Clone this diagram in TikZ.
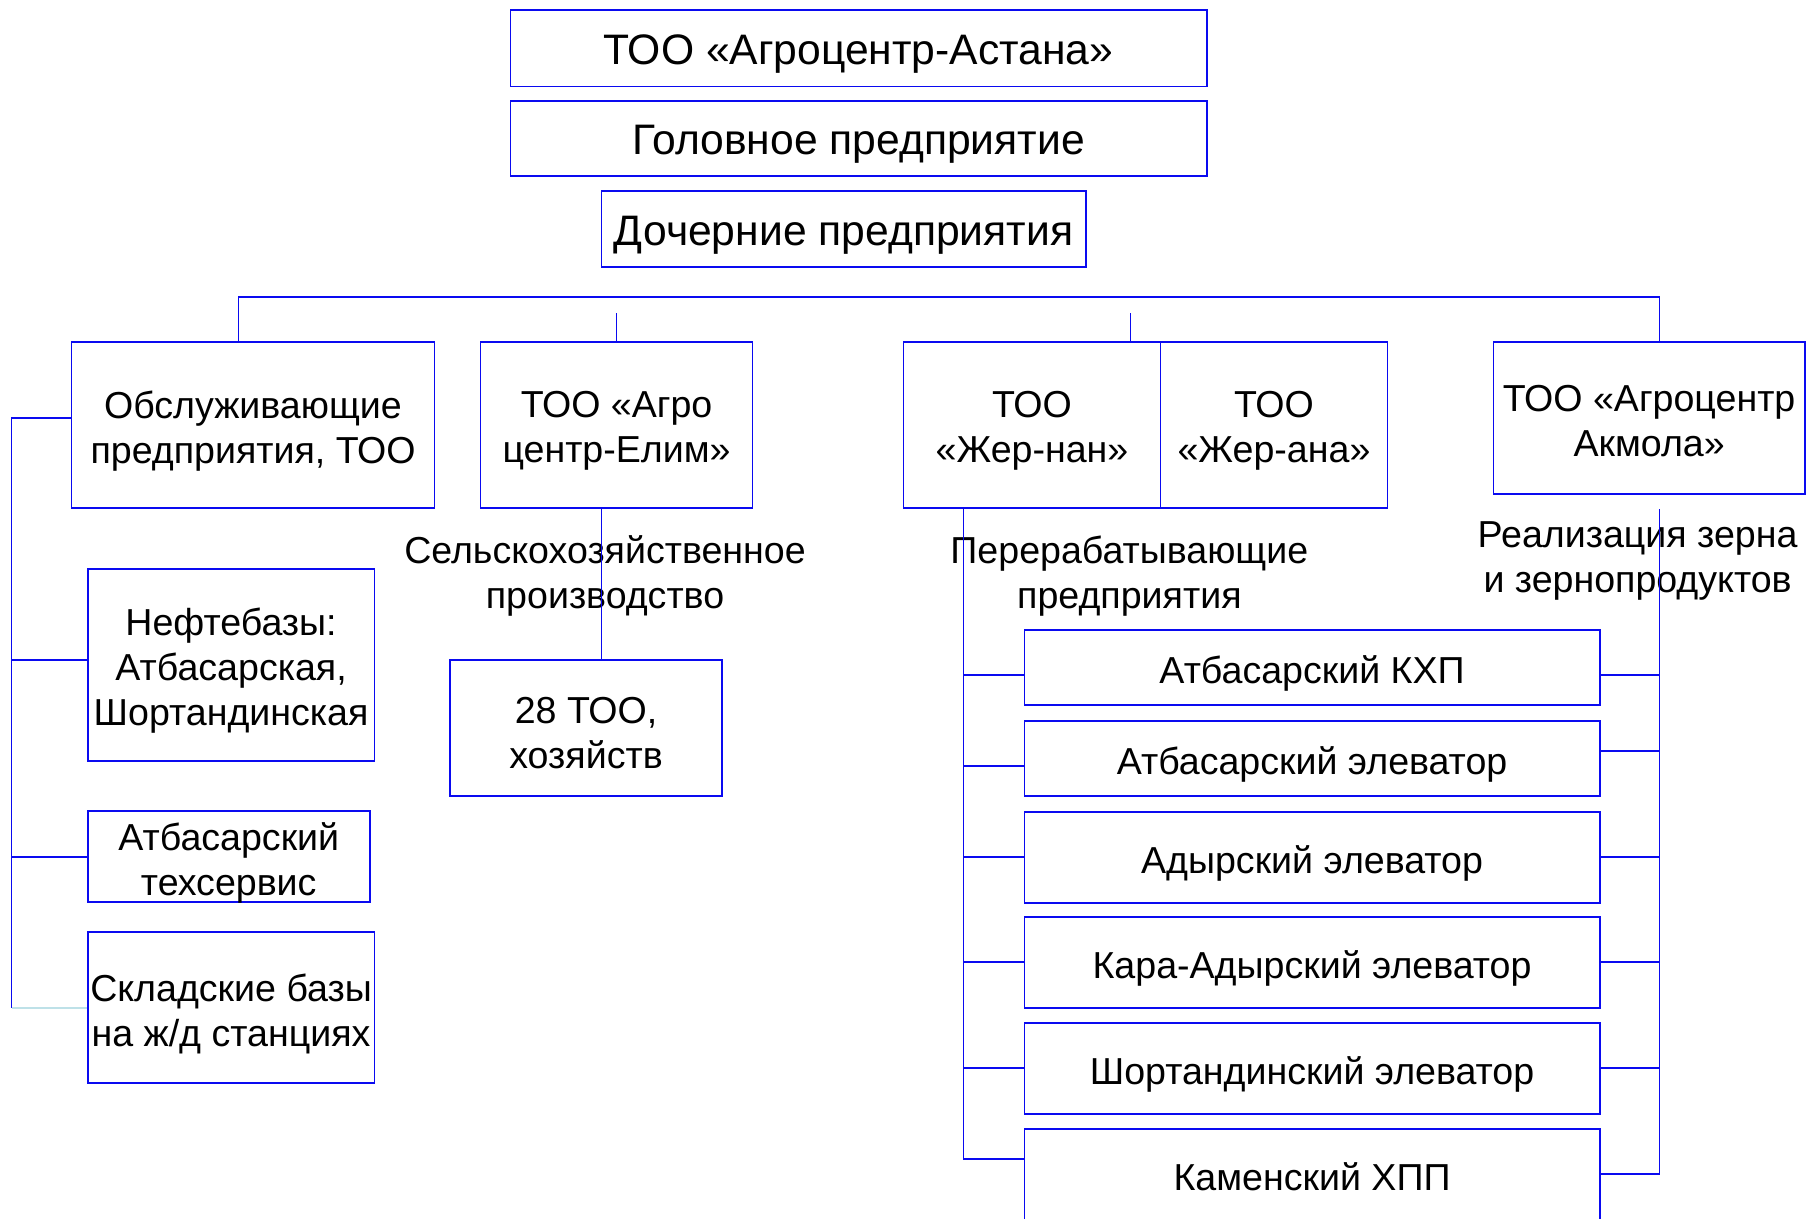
\documentclass[tikz,border=0pt]{standalone}
\usepackage{fontspec}
\setmainfont{Liberation Sans}
\definecolor{lb}{RGB}{10,10,240}
\definecolor{pale}{RGB}{190,225,232}
\tikzset{
  box/.style={draw=lb, line width=1.6pt, inner sep=0pt},
  lbl/.style={inner sep=0pt, align=center, font=\fontsize{32.6}{39}\selectfont},
  toplbl/.style={inner sep=0pt, align=center, font=\fontsize{37}{42}\selectfont},
  txt/.style={label={[lbl,yshift=-5pt]center:{#1}}},
  toptxt/.style={label={[toplbl,yshift=-5pt]center:{#1}}},
  conn/.style={draw=lb, line width=1.6pt},
  paleconn/.style={draw=pale, line width=1.6pt}
}
\begin{document}
\begin{tikzpicture}[x=1pt,y=-1pt]
\useasboundingbox (0,0) rectangle (1568,1057);
\clip (0,0) rectangle (1568,1057);
\fill[white] (0,0) rectangle (1568,1057);

% top
\node[box, minimum width=604pt, minimum height=66pt, toptxt={ТОО «Агроцентр-Астана»}] (A) at (745,42) {};
\node[box, minimum width=604pt, minimum height=65pt, toptxt={Головное предприятие}] (B) at (745,120.5) {};
\node[box, minimum width=420pt, minimum height=66pt, toptxt={Дочерние предприятия}] (C) at (732,199) {};

% second level
\node[box, minimum width=315pt, minimum height=144pt, txt={Обслуживающие\\предприятия, ТОО}] (obs) at (219.5,369) {};
\node[box, minimum width=236pt, minimum height=144pt, txt={ТОО «Агро\\центр-Елим»}] (elim) at (535,369) {};
\node[box, minimum width=223pt, minimum height=144pt, txt={ТОО\\«Жер-нан»}] (zhn) at (895.5,369) {};
\node[box, minimum width=197pt, minimum height=144pt, txt={ТОО\\«Жер-ана»}] (zha) at (1105.5,369) {};
\node[box, minimum width=270pt, minimum height=132pt, label={[lbl,yshift=-2pt]center:{ТОО «Агроцентр\\Акмола»}}] (akm) at (1431,363) {};

% left column
\node[box, minimum width=249pt, minimum height=166pt, txt={Нефтебазы:\\Атбасарская,\\Шортандинская}] (neft) at (200.5,577) {};
\node[box, minimum width=245pt, minimum height=79pt, txt={Атбасарский\\техсервис}] (tekh) at (198.5,743.5) {};
\node[box, minimum width=249pt, minimum height=131pt, txt={Складские базы\\на ж/д станциях}] (sklad) at (200.5,874.5) {};
\node[box, minimum width=236pt, minimum height=118pt, txt={28 ТОО,\\хозяйств}] (too) at (508.5,631.5) {};

% labels
\node[lbl] (sel) at (525,500) {Сельскохозяйственное\\производство};
\node[lbl] (per) at (980,500) {Перерабатывающие\\предприятия};
\node[lbl] (real) at (1421,487) {Реализация зерна\\и зернопродуктов};

% right column
\node[box, minimum width=499pt, minimum height=65pt, txt={Атбасарский КХП}] (r1) at (1138.5,579.5) {};
\node[box, minimum width=499pt, minimum height=65pt, txt={Атбасарский элеватор}] (r2) at (1138.5,658) {};
\node[box, minimum width=499pt, minimum height=79pt, txt={Адырский элеватор}] (r3) at (1138.5,744) {};
\node[box, minimum width=499pt, minimum height=79pt, txt={Кара-Адырский элеватор}] (r4) at (1138.5,835) {};
\node[box, minimum width=499pt, minimum height=79pt, txt={Шортандинский элеватор}] (r5) at (1138.5,927.5) {};
\node[box, minimum width=499pt, minimum height=82pt, label={[lbl]center:{Каменский ХПП}}] (r6) at (1138.5,1021) {};

% bus
\coordinate (busL) at (207,258);
\coordinate (busR) at (1440,258);
\draw[conn] (obs.north -| busL) -- (busL) -- (busR) -- (akm.north -| busR);
\coordinate (stE) at (535,272);
\draw[conn] (stE) -- (elim.north);
\coordinate (stZ) at (981,272);
\draw[conn] (stZ) -- (stZ |- zhn.north);

% left trunk
\coordinate (ltop) at (10,363);
\coordinate (lbot) at (10,875);
\draw[conn] (obs.west |- ltop) -- (ltop) -- (lbot);
\coordinate (b1) at (10,573);
\draw[conn] (b1) -- (b1 -| neft.west);
\draw[conn] (tekh.west -| ltop) -- (tekh.west);
\draw[paleconn] (sklad.west -| ltop) -- (sklad.west);

% Elim down
\coordinate (ex) at (522,0);
\draw[conn] (elim.south -| ex) -- (too.north -| ex);

% right trunk left side
\coordinate (tl) at (836,0);
\coordinate (tlb) at (836,1006);
\draw[conn] (zhn.south -| tl) -- (tlb) -- (tlb -| r6.west);
\coordinate (c1) at (836,586);
\coordinate (c2) at (836,665);
\coordinate (c3) at (836,744);
\coordinate (c4) at (836,835);
\coordinate (c5) at (836,927);
\foreach \c in {c1,c2,c3,c4,c5} \draw[conn] (\c) -- (\c -| r1.west);

% right trunk right side
\coordinate (tr) at (1440,442);
\coordinate (trb) at (1440,1019);
\draw[conn] (tr) -- (trb) -- (trb -| r6.east);
\coordinate (d1) at (1440,586);
\coordinate (d2) at (1440,652);
\coordinate (d3) at (1440,744);
\coordinate (d4) at (1440,835);
\coordinate (d5) at (1440,927);
\foreach \d in {d1,d2,d3,d4,d5} \draw[conn] (\d) -- (\d -| r1.east);
\end{tikzpicture}
\end{document}
